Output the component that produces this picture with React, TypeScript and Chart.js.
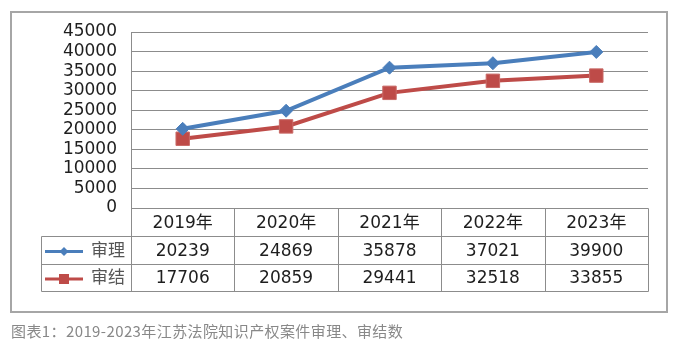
import React, { useEffect, useRef } from 'react';
import { Chart, registerables } from 'chart.js';

Chart.register(...registerables);

const categories = ['2019年', '2020年', '2021年', '2022年', '2023年'];
const trialed = [20239, 24869, 35878, 37021, 39900];
const concluded = [17706, 20859, 29441, 32518, 33855];
const seriesNames = ['审理', '审结'];
const yMin = 0;
const yMax = 45000;
const yStep = 5000;
const caption = '图表1：2019-2023年江苏法院知识产权案件审理、审结数';

const BLUE = '#4A7EBB';
const RED = '#BE4B48';
const GRID = '#8c8c8c';
const TEXT = '#1e1e1e';
const FONT = '"DejaVu Sans", "Noto Sans CJK SC", sans-serif';

const tablePlugin = {
  id: 'dataTable',
  afterDraw(chart: any) {
    const ctx = chart.ctx as CanvasRenderingContext2D;
    const xs = chart.scales.x;
    const area = chart.chartArea;
    const n = chart.data.labels.length;
    const colW = (area.right - area.left) / n;
    const left = Math.round(area.left) + 0.5;
    const right = Math.round(area.right) + 0.5;
    const legendLeft = 41.5;
    const top = Math.round(area.bottom) + 0.5;
    const rows = [top, top + 28, top + 56, top + 83];
    ctx.save();
    ctx.strokeStyle = GRID;
    ctx.lineWidth = 1;
    ctx.beginPath();
    ctx.moveTo(left, rows[0]);
    ctx.lineTo(right, rows[0]);
    for (let r = 1; r < rows.length; r++) {
      ctx.moveTo(legendLeft, rows[r]);
      ctx.lineTo(right, rows[r]);
    }
    for (let i = 0; i <= n; i++) {
      const px = Math.round(xs.getPixelForValue(0) - colW / 2 + i * colW) + 0.5;
      ctx.moveTo(px, rows[0]);
      ctx.lineTo(px, rows[3]);
    }
    ctx.moveTo(legendLeft, rows[1]);
    ctx.lineTo(legendLeft, rows[3]);
    ctx.stroke();

    ctx.fillStyle = TEXT;
    ctx.font = `17px ${FONT}`;
    ctx.textAlign = 'center';
    ctx.textBaseline = 'middle';
    chart.data.labels.forEach((lab: string, i: number) => {
      const cx = xs.getPixelForValue(i);
      ctx.fillText(lab, cx, (rows[0] + rows[1]) / 2 + 1);
    });
    chart.data.datasets.forEach((ds: any, d: number) => {
      const cy = (rows[d + 1] + rows[d + 2]) / 2 + 1;
      ds.data.forEach((v: number, i: number) => {
        ctx.fillStyle = TEXT;
        ctx.fillText(String(v), xs.getPixelForValue(i), cy);
      });
      ctx.strokeStyle = ds.borderColor;
      ctx.lineWidth = 3;
      ctx.beginPath();
      ctx.moveTo(45, cy);
      ctx.lineTo(83, cy);
      ctx.stroke();
      ctx.fillStyle = ds.backgroundColor;
      ctx.beginPath();
      if (ds.pointStyle === 'rectRot') {
        const r = 4.5;
        ctx.moveTo(64, cy - r);
        ctx.lineTo(64 + r, cy);
        ctx.lineTo(64, cy + r);
        ctx.lineTo(64 - r, cy);
        ctx.closePath();
      } else {
        ctx.rect(64 - 5, cy - 5, 10, 10);
      }
      ctx.fill();
      ctx.fillStyle = '#555';
      ctx.textAlign = 'left';
      ctx.fillText(ds.label, 91, cy);
      ctx.textAlign = 'center';
    });
    ctx.restore();
  },
};

export default function App() {
  const ref = useRef<HTMLCanvasElement>(null);
  useEffect(() => {
    if (!ref.current) return;
    const chart = new Chart(ref.current, {
      type: 'line',
      data: {
        labels: categories,
        datasets: [
          {
            label: seriesNames[0],
            data: trialed,
            borderColor: BLUE,
            backgroundColor: BLUE,
            borderWidth: 4,
            pointStyle: 'rectRot',
            pointRadius: 6.5,
            pointBorderWidth: 1,
            pointBorderColor: BLUE,
            pointBackgroundColor: BLUE,
            tension: 0,
            clip: false as any,
          },
          {
            label: seriesNames[1],
            data: concluded,
            borderColor: RED,
            backgroundColor: RED,
            borderWidth: 4,
            pointStyle: 'rect',
            pointRadius: 9.5,
            pointBorderWidth: 1,
            pointBorderColor: '#c96a67',
            pointBackgroundColor: RED,
            tension: 0,
            clip: false as any,
          },
        ],
      },
      options: {
        responsive: false,
        animation: false,
        layout: { padding: { left: 0, top: 32, right: 28, bottom: 143 } },
        plugins: {
          legend: { display: false },
          tooltip: { enabled: false },
          title: { display: false },
        },
        scales: {
          x: {
            type: 'category',
            offset: true,
            display: false,
          },
          y: {
            min: yMin,
            max: yMax,
            afterFit: (s: any) => {
              s.width = 131;
            },
            ticks: {
              stepSize: yStep,
              autoSkip: false,
              padding: 14,
              color: TEXT,
              font: { family: FONT, size: 17 },
              callback: (v: any) => String(v),
            },
            grid: { color: GRID, lineWidth: 1, drawTicks: false },
            border: { display: true, color: GRID, width: 1 },
          },
        },
      },
      plugins: [tablePlugin],
    });
    return () => chart.destroy();
  }, []);

  return (
    <div style={{ position: 'fixed', left: 0, top: 0, width: 676, height: 351, background: '#fff' }}>
      <div
        style={{
          position: 'absolute',
          left: 10,
          top: 11,
          width: 654,
          height: 298,
          border: '2px solid #a6a6a6',
        }}
      />
      <canvas ref={ref} width={676} height={351} style={{ position: 'absolute', left: 0, top: 0 }} />
      <div
        style={{
          position: 'absolute',
          left: 11,
          top: 321,
          fontSize: 15,
          lineHeight: '20px',
          color: '#888',
          fontFamily: '"Noto Sans CJK SC", "Noto Sans", sans-serif',
          whiteSpace: 'nowrap',
          letterSpacing: 0.4,
        }}
      >
        {caption}
      </div>
    </div>
  );
}
